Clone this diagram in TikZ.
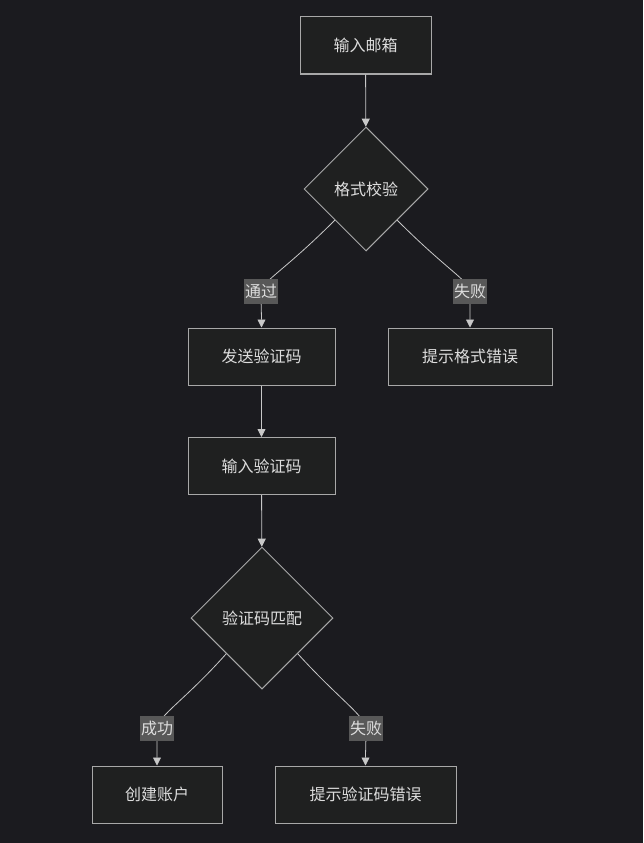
\documentclass[tikz,border=0pt]{standalone}
\usepackage{fontspec}
\setmainfont{Noto Sans CJK SC}
\usetikzlibrary{shapes.geometric,arrows.meta}
\definecolor{bgcol}{HTML}{1B1B1F}
\definecolor{nodefill}{HTML}{1F2020}
\definecolor{nodeline}{HTML}{A8A8A8}
\definecolor{edgecol}{HTML}{C8C8C8}
\definecolor{txtcol}{HTML}{DDDDDD}
\definecolor{lblfill}{HTML}{585858}

\begin{document}
\begin{tikzpicture}[
  x=1pt, y=-1pt,
  font=\fontsize{16}{19}\selectfont, color=txtcol,
  box/.style={draw=nodeline, fill=nodefill, line width=1pt, align=center,
              minimum height=57pt, inner sep=3pt},
  decision/.style={diamond, draw=nodeline, fill=nodefill, line width=1pt,
                   minimum width=124pt, minimum height=124pt, inner sep=0pt},
  lbl/.style={fill=lblfill, inner sep=1pt, minimum height=25pt},
  edge/.style={draw=edgecol, line width=0.8pt,
               -{Triangle[length=8pt,width=8pt]}},
]
\useasboundingbox (0,0) rectangle (643,843);
\fill[bgcol] (0,0) rectangle (643,843);
% top part
\node[box, minimum width=131pt] (email)  at (365.5,45.5)  {输入邮箱};
\node[decision]                 (fmt)    at (366,189)     {格式校验};
\node[box, minimum width=147pt] (send)   at (261.5,356.5) {发送验证码};
\node[box, minimum width=164pt] (fmterr) at (470,356.5)   {提示格式错误};
% bottom part
\node[box, minimum width=147pt] (code)   at (261.5,466)   {输入验证码};
\node[decision, minimum width=142pt, minimum height=142pt]
                                (match)  at (262,618)     {验证码匹配};
\node[box, minimum width=130pt] (create) at (157,794.5)   {创建账户};
\node[box, minimum width=181pt] (codeerr) at (365.5,794.5) {提示验证码错误};

% label points
\coordinate (pass)  at (261,291);
\coordinate (fail1) at (470,291);
\coordinate (ok)    at (157,728);
\coordinate (fail2) at (366,728);

\draw[edge] (email) -- (fmt);
\draw[edge] (fmt.south west) .. controls (285,270) and (264,280) .. (pass)
  node[lbl] {通过} .. controls (261,305) and (261.5,315) .. (send.north);
\draw[edge] (fmt.south east) .. controls (447,270) and (468,280) .. (fail1)
  node[lbl] {失败} .. controls (470,305) and (470,315) .. (fmterr.north);
\draw[edge] (send) -- (code);
\draw[edge] (code) -- (match);
\draw[edge] (match.south west) .. controls (185,700) and (159,715) .. (ok)
  node[lbl] {成功} .. controls (157,742) and (157,752) .. (create.north);
\draw[edge] (match.south east) .. controls (340,700) and (364,715) .. (fail2)
  node[lbl] {失败} .. controls (366,742) and (365.5,752) .. (codeerr.north);
\end{tikzpicture}
\end{document}
